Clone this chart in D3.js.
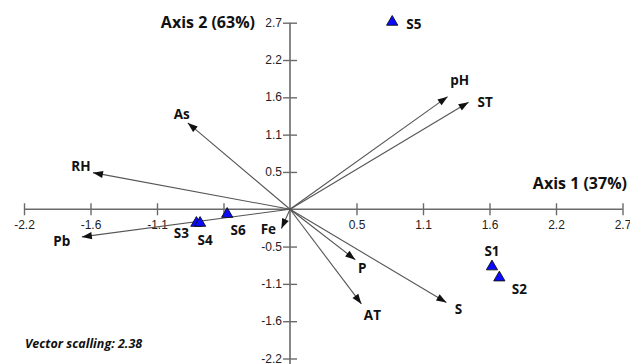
<!DOCTYPE html>
<html>
<head>
<meta charset="utf-8">
<script src="https://cdn.jsdelivr.net/npm/d3@7"></script>
<style>
  body { margin: 0; background: #fff; }
  svg { display: block; }
  .lbl { font-family: "Open Sans", sans-serif; font-weight: bold; fill: #111; }
  .tick text { font-family: "Liberation Sans", Arial, sans-serif; font-size: 12px; fill: #222; }
</style>
</head>
<body>
<svg id="chart" width="630" height="364"></svg>
<script>
// biplot data (already scaled)
var varNames = ["pH", "ST", "As", "RH", "Pb", "Fe", "P", "AT", "S"];
var varAxis1 = [1.28, 1.45, -0.83, -1.60, -1.69, -0.07, 0.53, 0.58, 1.27];
var varAxis2 = [1.63, 1.55, 1.25, 0.53, -0.40, -0.28, -0.73, -1.37, -1.35];

var siteNames = ["S1", "S2", "S3", "S4", "S5", "S6"];
var siteAxis1 = [1.64, 1.70, -0.76, -0.73, 0.83, -0.51];
var siteAxis2 = [-0.83, -0.99, -0.20, -0.20, 2.71, -0.07];

var tickValues = [-2.16, -1.62, -1.08, -0.54, 0, 0.54, 1.08, 1.62, 2.16, 2.7];
var xTickLabels = ["-2.2", "-1.6", "-1.1", "", "", "0.5", "1.1", "1.6", "2.2", "2.7"];
var yTickLabels = ["-2.2", "-1.6", "-1.1", "-0.5", "", "0.5", "1.1", "1.6", "2.2", "2.7"];

var axis1Title = "Axis 1 (37%)";
var axis2Title = "Axis 2 (63%)";
var scalingNote = "Vector scalling: 2.38";

// label offsets in px from the point / arrow tip
var varLabelPos = {
    pH: [12, -16, "middle"], ST: [9, 0, "start"], As: [-6, -9, "middle"],
    RH: [-12, -6, "middle"], Pb: [-20, 4, "middle"], Fe: [-13, 1, "middle"],
    P: [7, 9, "middle"], AT: [11, 11, "middle"], S: [12, 7, "middle"]
};
var siteLabelPos = {
    S1: [0, -15, "middle"], S2: [20, 12, "middle"], S3: [-15, 10, "middle"],
    S4: [5, 17, "middle"], S5: [14, 2, "start"], S6: [11, 16, "middle"]
};

var svg = d3.select("#chart");

var x = d3.scaleLinear().domain([-2.16, 2.7]).range([24, 622.5]);
var y = d3.scaleLinear().domain([-2.16, 2.7]).range([358.5, 22.7]);
var x0 = x(0), y0 = y(0);

// axes lines
svg.append("line").attr("x1", x(-2.16)).attr("x2", x(2.7)).attr("y1", y0).attr("y2", y0)
    .attr("stroke", "#6a6a6a").attr("stroke-width", 1.6);
svg.append("line").attr("x1", x0).attr("x2", x0).attr("y1", y(2.7)).attr("y2", 364)
    .attr("stroke", "#6a6a6a").attr("stroke-width", 1.6);

var xAxis = d3.axisBottom(x).tickValues(tickValues).tickSize(12).tickPadding(5)
    .tickFormat(function(d, i) { return xTickLabels[i]; });
var gx = svg.append("g").attr("transform", "translate(0," + (y0 - 6) + ")").call(xAxis);
gx.select(".domain").remove();

var yAxis = d3.axisLeft(y).tickValues(tickValues).tickSize(14).tickPadding(1)
    .tickFormat(function(d, i) { return yTickLabels[i]; });
var gy = svg.append("g").attr("transform", "translate(" + (x0 + 7) + ",0)").call(yAxis);
gy.select(".domain").remove();
gy.selectAll(".tick text").attr("dy", "0.3em");

svg.selectAll(".tick line").attr("stroke", "#6a6a6a").attr("stroke-width", 1.4);
svg.selectAll(".tick").filter(function(d) { return d === 0; }).remove();

// arrowhead
svg.append("defs").append("marker")
    .attr("id", "arrow").attr("markerUnits", "userSpaceOnUse")
    .attr("viewBox", "0 -4 10 8").attr("refX", 10).attr("refY", 0)
    .attr("markerWidth", 11).attr("markerHeight", 8).attr("orient", "auto")
    .append("path").attr("d", "M0,-3.6L10,0L0,3.6Z").attr("fill", "#111");

// vectors
svg.selectAll(".vec").data(varNames).enter().append("line")
    .attr("class", "vec")
    .attr("x1", x0).attr("y1", y0)
    .attr("x2", function(d, i) { return x(varAxis1[i]); })
    .attr("y2", function(d, i) { return y(varAxis2[i]); })
    .attr("stroke", "#555").attr("stroke-width", 1.1)
    .attr("marker-end", "url(#arrow)");

svg.selectAll(".vlab").data(varNames).enter().append("text")
    .attr("class", "lbl")
    .attr("font-size", 13.5)
    .attr("x", function(d, i) { return x(varAxis1[i]) + varLabelPos[d][0]; })
    .attr("y", function(d, i) { return y(varAxis2[i]) + varLabelPos[d][1]; })
    .attr("dy", "0.35em")
    .attr("text-anchor", function(d) { return varLabelPos[d][2]; })
    .text(function(d) { return d; });

// sites
var tri = d3.symbol().type(d3.symbolTriangle).size(55);
svg.selectAll(".site").data(siteNames).enter().append("path")
    .attr("class", "site")
    .attr("d", tri)
    .attr("transform", function(d, i) { return "translate(" + x(siteAxis1[i]) + "," + y(siteAxis2[i]) + ")"; })
    .attr("fill", "#0a0aff").attr("stroke", "#111").attr("stroke-width", 0.9);

svg.selectAll(".slab").data(siteNames).enter().append("text")
    .attr("class", "lbl")
    .attr("font-size", 13.5)
    .attr("x", function(d, i) { return x(siteAxis1[i]) + siteLabelPos[d][0]; })
    .attr("y", function(d, i) { return y(siteAxis2[i]) + siteLabelPos[d][1]; })
    .attr("dy", "0.35em")
    .attr("text-anchor", function(d) { return siteLabelPos[d][2]; })
    .text(function(d) { return d; });

// titles
svg.append("text").attr("class", "lbl").attr("font-size", 16)
    .attr("x", 255).attr("y", 22).attr("dy", "0.35em").attr("text-anchor", "end")
    .text(axis2Title);
svg.append("text").attr("class", "lbl").attr("font-size", 16)
    .attr("x", 627).attr("y", 183).attr("dy", "0.35em").attr("text-anchor", "end")
    .text(axis1Title);
svg.append("text").attr("class", "lbl").attr("font-size", 12.5)
    .attr("font-style", "italic")
    .attr("x", 25).attr("y", 344).attr("dy", "0.35em")
    .text(scalingNote);
</script>
</body>
</html>
